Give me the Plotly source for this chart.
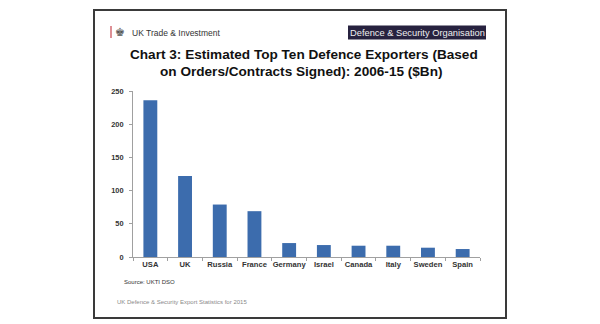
import plotly.graph_objects as go

countries = ["USA", "UK", "Russia", "France", "Germany", "Israel", "Canada", "Italy", "Sweden", "Spain"]
values = [236, 122, 79, 69, 21, 18, 17, 17, 14, 12]
y_ticks = [0, 50, 100, 150, 200, 250]

title_lines = ["Chart 3: Estimated Top Ten Defence Exporters (Based",
               "on Orders/Contracts Signed): 2006-15 ($Bn)"]

W, H = 600, 324
X0, X1, YB, YT = 133, 480, 257, 91


def px(x):
    return (x - X0) / (X1 - X0)


def py(y):
    return (YB - y) / (YB - YT)


SANS = "Liberation Sans, Arial, sans-serif"

fig = go.Figure(go.Bar(x=countries, y=values, marker=dict(color="#3c6cad", line=dict(width=0))))

fig.update_layout(
    width=W, height=H,
    margin=dict(l=X0, r=W - X1, t=YT, b=H - YB, pad=0),
    paper_bgcolor="white", plot_bgcolor="white",
    bargap=0.6, showlegend=False,
    xaxis=dict(type="category", showline=True, linecolor="#a0a0a0", linewidth=1,
               ticks="outside", tickson="boundaries", ticklen=3, tickcolor="#a0a0a0",
               showgrid=False, tickangle=0,
               tickfont=dict(family=SANS, size=7.6, color="#333333", weight="bold"),
               fixedrange=True),
    yaxis=dict(range=[0, 250], tickvals=y_ticks, showline=True, linecolor="#a0a0a0",
               linewidth=1, ticks="outside", ticklen=3, tickcolor="#a0a0a0",
               showgrid=False, zeroline=False, ticklabelstandoff=4,
               tickfont=dict(family=SANS, size=7.4, color="#333333", weight="bold"),
               fixedrange=True),
)

shapes = [
    dict(type="rect", xref="paper", yref="paper", x0=px(94), x1=px(506), y0=py(318), y1=py(10),
         line=dict(color="#3a3a3a", width=2), fillcolor="rgba(0,0,0,0)", layer="below"),
    dict(type="line", xref="paper", yref="paper", x0=px(111), x1=px(111), y0=py(38), y1=py(26),
         line=dict(color="#c8464f", width=1.2)),
    dict(type="rect", xref="paper", yref="paper", x0=px(348), x1=px(486), y0=py(39.5), y1=py(25.5),
         line=dict(width=0), fillcolor="#27223f"),
]

annotations = [
    dict(text="♚", x=px(120), y=py(32.5), xanchor="center", yanchor="middle",
         font=dict(family="DejaVu Sans", size=11, color="#555555")),
    dict(text="UK Trade & Investment", x=px(130), y=py(32.5), xanchor="left", yanchor="middle",
         font=dict(family=SANS, size=8.5, color="#333333")),
    dict(text="Defence & Security Organisation", x=px(417), y=py(32.5), xanchor="center",
         yanchor="middle", font=dict(family=SANS, size=9.3, color="#eeeeee")),
    dict(text="<b>" + title_lines[0] + "</b>", x=px(303.5), y=py(54.5), xanchor="center",
         yanchor="middle", font=dict(family=SANS, size=13.6, color="#111111")),
    dict(text="<b>" + title_lines[1] + "</b>", x=px(301.5), y=py(72), xanchor="center",
         yanchor="middle", font=dict(family=SANS, size=13.6, color="#111111")),
    dict(text="Source: UKTI DSO", x=px(122), y=py(282), xanchor="left", yanchor="middle",
         font=dict(family=SANS, size=6, color="#333333")),
    dict(text="UK Defence & Security Export Statistics for 2015", x=px(115), y=py(302),
         xanchor="left", yanchor="middle", font=dict(family=SANS, size=6, color="#8a8a8a")),
]
for a in annotations:
    a.update(xref="paper", yref="paper", showarrow=False)

fig.update_layout(shapes=shapes, annotations=annotations)
fig.write_html("out.html", config={"displayModeBar": False})
